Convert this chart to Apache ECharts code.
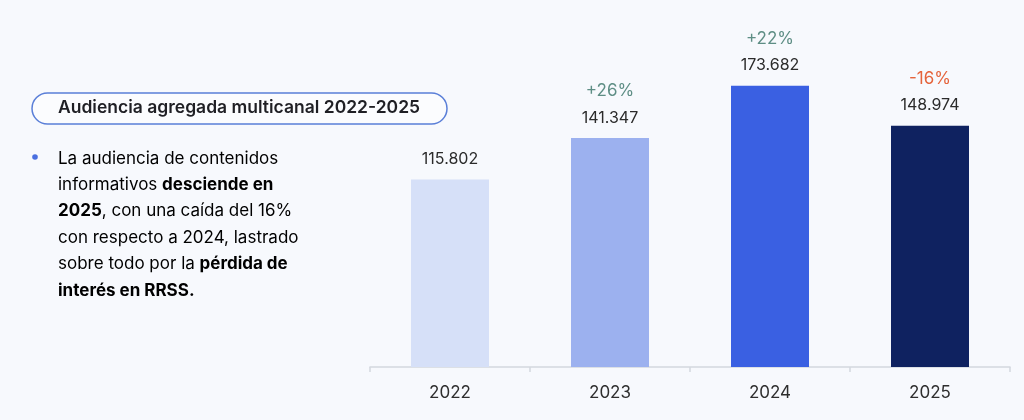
<!DOCTYPE html>
<html>
<head>
<meta charset="utf-8">
<script src="https://cdn.jsdelivr.net/npm/echarts@6/dist/echarts.min.js"></script>
<style>
html,body{margin:0;padding:0;background:#f7f9fd;}
#chart{width:1024px;height:420px;}
</style>
</head>
<body>
<div id="chart"></div>
<script>
const categories = ['2022', '2023', '2024', '2025'];
const values = [115802, 141347, 173682, 148974];
const valueLabels = ['115.802', '141.347', '173.682', '148.974'];
const changes = ['', '+26%', '+22%', '-16%'];
const barColors = ['#d6e0f8', '#9cb1ef', '#3a60e2', '#0f2260'];

const FONT = 'Inter, "Noto Sans", sans-serif';
const chart = echarts.init(document.getElementById('chart'));

const data = values.map((v, i) => ({
  value: v,
  itemStyle: { color: barColors[i] }
}));

chart.setOption({
  backgroundColor: '#f7f9fd',
  animation: false,
  grid: { left: 370, right: 14, top: 43, bottom: 53 },
  xAxis: {
    type: 'category',
    data: categories,
    axisLine: { lineStyle: { color: '#d3d7de', width: 1.5 } },
    axisTick: { show: true, length: 5, lineStyle: { color: '#d3d7de', width: 1.5 } },
    axisLabel: { color: '#2e2e2e', fontSize: 17, fontFamily: FONT, margin: 17 }
  },
  yAxis: {
    type: 'value', min: 0, max: 200000,
    show: false, splitLine: { show: false }
  },
  series: [{
    type: 'bar',
    data: data,
    barWidth: 78,
    label: {
      show: true,
      position: 'top',
      distance: 7,
      fontFamily: FONT,
      formatter: p => {
        const c = changes[p.dataIndex];
        const v = valueLabels[p.dataIndex];
        if (!c) return '{v|' + v + '}';
        const style = c.charAt(0) === '-' ? 'n' : 'p';
        return '{' + style + '|' + c + '}\n{v|' + v + '}';
      },
      rich: {
        v: { fontSize: 16, color: '#2b2b2b', fontFamily: FONT, lineHeight: 26 },
        p: { fontSize: 17, color: '#5e8e85', fontFamily: FONT, lineHeight: 28 },
        n: { fontSize: 17, color: '#e5643c', fontFamily: FONT, lineHeight: 28 }
      }
    }
  }],
  graphic: [
    {
      type: 'rect',
      shape: { x: 32, y: 93, width: 415, height: 31, r: 15.5 },
      style: { fill: '#fbfcfe', stroke: '#5a7fd8', lineWidth: 1.5 }
    },
    {
      type: 'text',
      left: 58, top: 99,
      style: {
        text: 'Audiencia agregada multicanal 2022-2025',
        font: '600 17.5px ' + FONT,
        fill: '#1f1f24'
      }
    },
    {
      type: 'circle',
      shape: { cx: 35, cy: 157, r: 2.8 },
      style: { fill: '#4a6fe0' }
    },
    {
      type: 'text',
      left: 58, top: 150,
      style: {
        text: '{r|La audiencia de contenidos}\n' +
              '{r|informativos }{b|desciende en}\n' +
              '{b|2025}{r|, con una caída del 16%}\n' +
              '{r|con respecto a 2024, lastrado}\n' +
              '{r|sobre todo por la }{b|pérdida de}\n' +
              '{b|interés en RRSS.}',
        rich: {
          r: { fontSize: 17, fontFamily: FONT, color: '#46464c', lineHeight: 26.4 },
          b: { fontSize: 17, fontFamily: FONT, fontWeight: 'bold', color: '#23232a', lineHeight: 26.4 }
        }
      }
    }
  ]
});
</script>
</body>
</html>
